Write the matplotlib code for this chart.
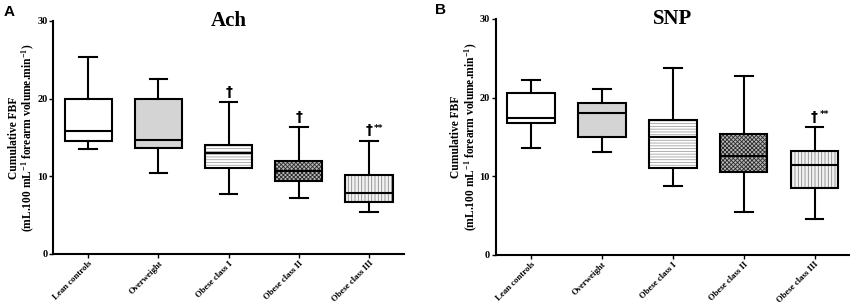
import matplotlib
matplotlib.use("Agg")
from matplotlib import pyplot as plt

groups = ["Lean controls", "Overweight", "Obese class I", "Obese class II", "Obese class III"]

# Ach: whisker low, q1, median, q3, whisker high
ach_lo = [13.45, 10.4, 7.7, 7.2, 5.35]
ach_q1 = [14.5, 13.6, 11.0, 9.35, 6.7]
ach_med = [15.85, 14.7, 13.0, 10.7, 7.9]
ach_q3 = [20.0, 20.0, 14.05, 12.0, 10.2]
ach_hi = [25.4, 22.5, 19.5, 16.3, 14.6]
ach_marks = ["", "", "†", "†", "†**"]

# SNP
snp_lo = [13.6, 13.1, 8.8, 5.5, 4.6]
snp_q1 = [16.75, 14.95, 11.0, 10.6, 8.5]
snp_med = [17.45, 18.05, 14.95, 12.6, 11.4]
snp_q3 = [20.6, 19.35, 17.15, 15.4, 13.25]
snp_hi = [22.2, 21.1, 23.8, 22.75, 16.3]
snp_marks = ["", "", "", "", "†**"]

face_colors = ["white", "#d4d4d4", "white", "#b8b8b8", "#f2f2f2"]
hatches = [None, None, "------", "xxxxxxxx", "|||||"]
hatch_colors = ["black", "black", "#a0a0a0", "#2a2a2a", "#8a8a8a"]

plt.rcParams["hatch.linewidth"] = 0.6
plt.rcParams["mathtext.fontset"] = "custom"
plt.rcParams["mathtext.rm"] = "Liberation Serif:bold"
plt.rcParams["mathtext.bf"] = "Liberation Serif:bold"
plt.rcParams["mathtext.it"] = "Liberation Serif:bold"
serif = "Liberation Serif"


def draw_panel(ax, lo, q1, med, q3, hi, marks, title):
    pos = list(range(1, len(groups) + 1))
    stats = []
    for i in range(len(groups)):
        stats.append({"whislo": lo[i], "q1": q1[i], "med": med[i], "q3": q3[i],
                      "whishi": hi[i], "fliers": []})
    # fill layer with hatching
    for i in range(len(groups)):
        b = ax.bxp([stats[i]], positions=[pos[i]], widths=0.67, patch_artist=True,
                   showfliers=False, showcaps=False,
                   boxprops=dict(facecolor=face_colors[i], edgecolor=hatch_colors[i], linewidth=0),
                   whiskerprops=dict(linewidth=0), medianprops=dict(linewidth=0))
        if hatches[i]:
            b["boxes"][0].set_hatch(hatches[i])
    # outline layer
    ax.bxp(stats, positions=pos, widths=0.67, patch_artist=True, showfliers=False,
           boxprops=dict(facecolor="none", edgecolor="black", linewidth=1.5),
           whiskerprops=dict(color="black", linewidth=1.5),
           capprops=dict(color="black", linewidth=1.5),
           medianprops=dict(color="black", linewidth=1.5), capwidths=0.25)
    for i, m in enumerate(marks):
        if m:
            ax.text(pos[i], hi[i] + 0.4, "†", ha="center", va="bottom",
                    fontsize=10, fontweight="bold", family="DejaVu Sans")
            if "**" in m:
                ax.text(pos[i] + 0.07, hi[i] + 1.0, "**", ha="left", va="bottom",
                        fontsize=6.5, fontweight="bold", family="DejaVu Sans")
    ax.set_xlim(0.5, 5.5)
    ax.set_ylim(0, 30)
    ax.set_yticks([0, 10, 20, 30])
    ax.set_xticks(pos)
    ax.set_xticklabels(groups, rotation=45, ha="right", rotation_mode="anchor",
                       fontsize=6.3, fontweight="bold", family=serif)
    for t in ax.get_yticklabels():
        t.set_fontsize(7.5)
        t.set_fontweight("bold")
        t.set_family(serif)
    ax.tick_params(length=3, width=1, pad=1)
    ax.spines["top"].set_visible(False)
    ax.spines["right"].set_visible(False)
    ax.spines["left"].set_linewidth(1.5)
    ax.spines["bottom"].set_linewidth(1.5)
    ax.set_ylabel("Cumulative FBF\n(mL.100 mL$^{-1}$ forearm volume.min$^{-1}$)",
                  fontsize=8.3, fontweight="bold", family=serif, labelpad=0, linespacing=1.05)
    ax.text(0.5, 1.0, title, transform=ax.transAxes, ha="center", va="center",
            fontsize=15, fontweight="bold", family=serif)


fig = plt.figure(figsize=(8.5, 3.06), dpi=100)
ax1 = fig.add_axes([0.0624, 0.170, 0.413, 0.762])
ax2 = fig.add_axes([0.583, 0.167, 0.417, 0.771])

draw_panel(ax1, ach_lo, ach_q1, ach_med, ach_q3, ach_hi, ach_marks, "Ach")
draw_panel(ax2, snp_lo, snp_q1, snp_med, snp_q3, snp_hi, snp_marks, "SNP")

fig.text(0.004, 0.962, "A", fontsize=11, fontweight="bold", family="Liberation Sans",
         ha="left", va="center")
fig.text(0.512, 0.968, "B", fontsize=11, fontweight="bold", family="Liberation Sans",
         ha="left", va="center")

fig.savefig("out.png", dpi=100)
